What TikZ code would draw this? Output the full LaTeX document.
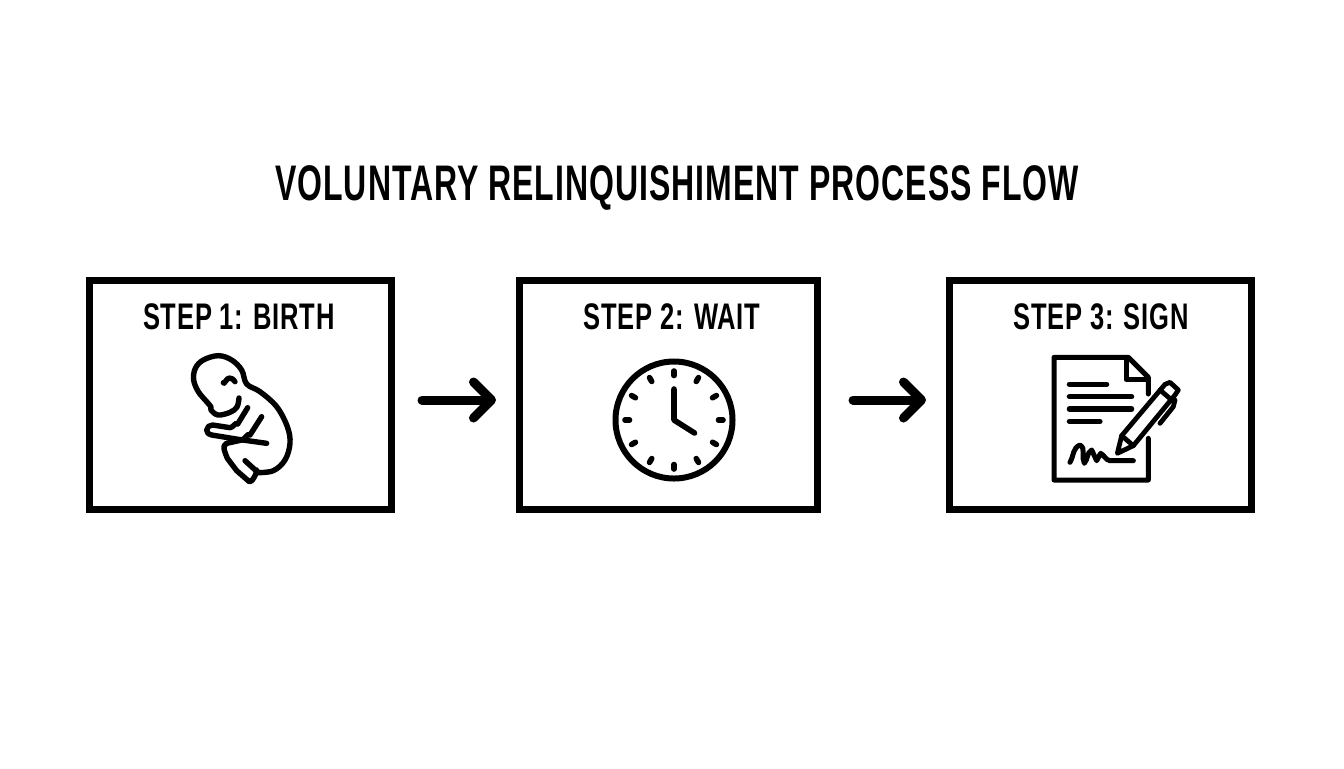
\documentclass[tikz,border=0pt]{standalone}
\usepackage{fontspec}
\usetikzlibrary{arrows.meta}
\newfontfamily\titlefont[FakeStretch=0.64,LetterSpace=2]{Liberation Sans}
\newfontfamily\stepfont[FakeStretch=0.69,LetterSpace=2]{Liberation Sans}
\tikzset{
  stepbox/.style={draw, line width=3.5pt, minimum height=114.5pt},
  steplabel/.style={font=\stepfont\bfseries\fontsize{18.5}{20}\selectfont, inner sep=0pt},
  icon/.style={line width=2.7pt, line cap=round, line join=round},
  flow/.style={line width=4.5pt, line cap=round,
    -{Straight Barb[length=9pt,width=18pt,round,line width=4.5pt]}},
}
\begin{document}
\begin{tikzpicture}[x=0.5pt,y=-0.5pt]
\useasboundingbox (0,0) rectangle (1344,768);
\node[font=\titlefont\bfseries\fontsize{25}{27}\selectfont, inner sep=0pt] (title) at (677,188) {VOLUNTARY RELINQUISHIMENT PROCESS FLOW};
\node[stepbox, minimum width=151pt] (box1) at (240.5,395) {};
\node[stepbox, minimum width=149pt] (box2) at (668.5,395) {};
\node[stepbox, minimum width=151pt] (box3) at (1100.5,395) {};
\node[steplabel] (lab1) at (239,317) {STEP 1: BIRTH};
\node[steplabel] (lab2) at (672,317) {STEP 2: WAIT};
\node[steplabel] (lab3) at (1101,317) {STEP 3: SIGN};
\draw[flow, shorten <=13.5pt, shorten >=10pt] ([yshift=-2.5pt]box1.east) -- ([yshift=-2.5pt]box2.west);
\draw[flow, shorten <=16pt, shorten >=10pt] ([yshift=-2.5pt]box2.east) -- ([yshift=-2.5pt]box3.west);
% baby
\begin{scope}[shift={(170,340)},scale=1/3]
\draw[icon] plot[smooth, tension=.6] coordinates {(207,174) (201,201) (180,217) (144,225) (123,210) (123,201) (110,185) (85,155) (71,120) (76,85) (100,60) (145,47) (185,60) (215,90) (230,132) (270,155) (320,200) (352,260) (360,310) (345,360) (310,392) (262,398)};
\draw[icon] (225,362) -- (258,392) to[out=60,in=0] (238,425) -- (200,392) -- (172,355) to[out=110,in=200] (170,310);
\draw[icon] (233,203) -- (203,252) to[out=120,in=0] (180,263) -- (128,255) to[out=180,in=90] (110,270) to[out=-90,in=180] (125,285) -- (205,298) -- (290,310);
\draw[icon] (275,230) -- (240,285) to[out=120,in=10] (215,300) -- (170,310);
\draw[icon] (160,128) to[out=-80,in=180] (178,114) to[out=0,in=120] (195,125);
\end{scope}
% clock
\begin{scope}[shift={(674,420)}]
\draw[line width=3pt] (0,0) circle (58.5);
\foreach \a in {0,30,...,330}
  \draw[line width=2.8pt, line cap=round] (\a:44.5) -- (\a:49);
\draw[line width=2.8pt, line cap=round, line join=round] (0,-31) -- (0,0) -- (20.5,13);
\end{scope}
% document and pen
\begin{scope}[shift={(1030,340)},scale=1/3]
\draw[icon, line width=2.5pt] (355,162) -- (355,112) -- (295,52) -- (72,52) -- (72,420) -- (355,420) -- (355,295);
\draw[icon, line width=2.5pt] (288,55) -- (288,118) -- (352,118);
\foreach \xa/\ya in {230/133,305/170,305/207,210/244}
  \draw[icon, line width=2.6pt] (118,\ya) -- (\xa,\ya);
\draw[icon, line width=2.5pt] (120,367) to[out=60,in=200] (150,315) to[out=-30,in=120] (163,370) to[out=50,in=210] (185,330) -- (200,362) -- (212,340) to[out=-30,in=170] (240,362) -- (310,362);
\draw[icon, line width=2.4pt] (262,340) -- (275,287) -- (405,133) -- (420,127) -- (445,150) -- (435,165) -- (310,317) -- cycle;
\draw[icon, line width=2.4pt] (275,287) -- (310,317);
\draw[icon, line width=2.4pt] (390,150) -- (425,180);
\draw[icon, line width=2.4pt] (390,250) -- (430,200) -- (435,180);
\end{scope}
\end{tikzpicture}
\end{document}
